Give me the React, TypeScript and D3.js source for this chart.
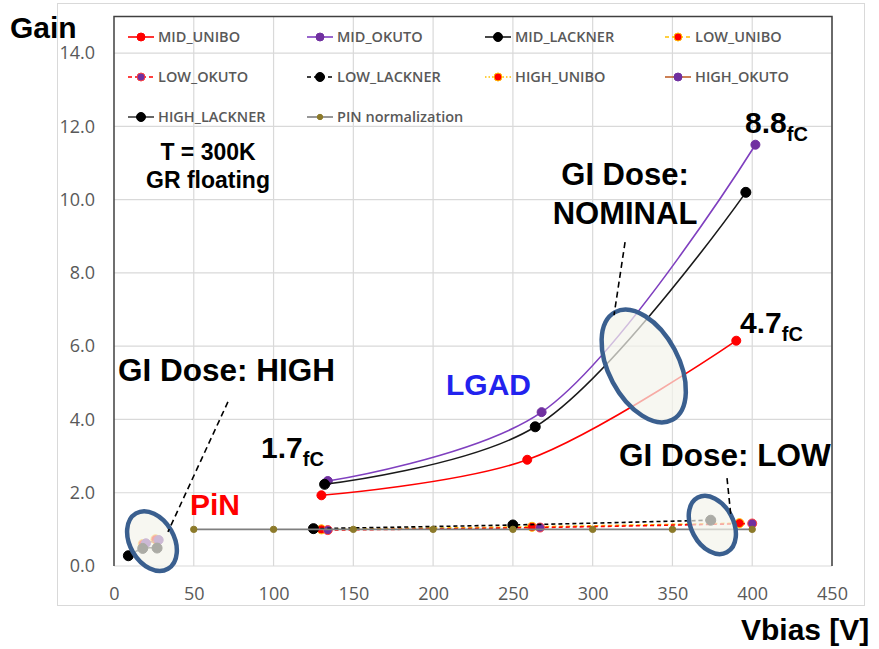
import React, { useRef, useEffect } from 'react';
import * as d3 from 'd3';

// values (bias in V, gain)
const midUniboV = [130, 259, 390];
const midUniboG = [1.93, 2.9, 6.15];
const midOkutoV = [134, 268, 402];
const midOkutoG = [2.32, 4.2, 11.5];
const midLacknerV = [132, 264, 396];
const midLacknerG = [2.23, 3.8, 10.2];
const lowUniboV = [130, 262, 392];
const lowUniboG = [1.0, 1.07, 1.17];
const lowOkutoV = [134, 267, 400];
const lowOkutoG = [0.98, 1.05, 1.16];
const lowLacknerV = [125, 250, 374];
const lowLacknerG = [1.02, 1.12, 1.25];
const highUniboV = [18, 26];
const highUniboG = [0.6, 0.73];
const highOkutoV = [20, 28];
const highOkutoG = [0.62, 0.71];
const highLacknerV = [9, 18, 27];
const highLacknerG = [0.28, 0.48, 0.49];
const pinV = [50, 100, 150, 200, 250, 300, 350, 400];
const pinG = [1, 1, 1, 1, 1, 1, 1, 1];

const seriesNames = ['MID_UNIBO', 'MID_OKUTO', 'MID_LACKNER', 'LOW_UNIBO', 'LOW_OKUTO',
  'LOW_LACKNER', 'HIGH_UNIBO', 'HIGH_OKUTO', 'HIGH_LACKNER', 'PIN normalization'];
const seriesV = [midUniboV, midOkutoV, midLacknerV, lowUniboV, lowOkutoV, lowLacknerV,
  highUniboV, highOkutoV, highLacknerV, pinV];
const seriesG = [midUniboG, midOkutoG, midLacknerG, lowUniboG, lowOkutoG, lowLacknerG,
  highUniboG, highOkutoG, highLacknerG, pinG];

const xTicks = [0, 50, 100, 150, 200, 250, 300, 350, 400, 450];
const yTicks = [0, 2, 4, 6, 8, 10, 12, 14];

// line colour, dash, marker fill, marker stroke, marker radius
const styles: Record<string, any> = {
  'MID_UNIBO': { line: '#ff0000', dash: null, mark: '#ff0000', mstroke: '#ff0000', r: 4.5 },
  'MID_OKUTO': { line: '#7f3fbf', dash: null, mark: '#7030a0', mstroke: '#7030a0', r: 4.5 },
  'MID_LACKNER': { line: '#1a1a1a', dash: null, mark: '#000', mstroke: '#000', r: 5 },
  'LOW_UNIBO': { line: '#ffc000', dash: '4,3', mark: '#ff0000', mstroke: '#ffc000', r: 4.5 },
  'LOW_OKUTO': { line: '#ff0000', dash: '4,3', mark: '#7030a0', mstroke: '#ff4040', r: 4.5 },
  'LOW_LACKNER': { line: '#000', dash: '4,3', mark: '#000', mstroke: '#000', r: 5 },
  'HIGH_UNIBO': { line: '#ffc000', dash: '1.5,2', mark: '#ff0000', mstroke: '#ffc000', r: 4.5 },
  'HIGH_OKUTO': { line: '#c0612b', dash: null, mark: '#7030a0', mstroke: '#7030a0', r: 4.5 },
  'HIGH_LACKNER': { line: '#404040', dash: null, mark: '#000', mstroke: '#000', r: 5 },
  'PIN normalization': { line: '#7f7f7f', dash: null, mark: '#8c7a2a', mstroke: '#8c7a2a', r: 3.2 },
};

export default function App() {
  const svgRef = useRef<SVGSVGElement>(null);

  useEffect(() => {
    const svg = d3.select(svgRef.current);
    svg.selectAll('*').remove();

    const x = d3.scaleLinear().domain([0, 450]).range([114, 832]);
    const y = d3.scaleLinear().domain([0, 15]).range([566, 16.5]);

    // chart frame
    svg.append('rect')
      .attr('x', 57.5).attr('y', 3.5).attr('width', 807).attr('height', 602)
      .attr('fill', '#fff').attr('stroke', '#d9d9d9');

    // grid
    svg.append('g').selectAll('line').data(xTicks.slice(1)).join('line')
      .attr('x1', d => x(d)).attr('x2', d => x(d))
      .attr('y1', y(15)).attr('y2', y(0))
      .attr('stroke', '#d9d9d9').attr('stroke-width', 1.2);
    svg.append('g').selectAll('line').data(yTicks).join('line')
      .attr('x1', x(0)).attr('x2', x(450))
      .attr('y1', d => y(d)).attr('y2', d => y(d))
      .attr('stroke', '#d9d9d9').attr('stroke-width', 1.2);

    // plot border (left, top, right)
    svg.append('path')
      .attr('d', `M${x(0)},${y(0)}V${y(15)}H${x(450)}V${y(0)}`)
      .attr('fill', 'none').attr('stroke', '#404040').attr('stroke-width', 1.5);

    // axes
    const xAxis = d3.axisBottom(x).tickValues(xTicks).tickSize(0).tickPadding(21)
      .tickFormat(d3.format('d'));
    svg.append('g').attr('transform', `translate(0,${y(0)})`).call(xAxis)
      .call(g => g.select('.domain').remove())
      .selectAll('text').attr('fill', '#595959')
      .style('font-family', '"Open Sans", sans-serif').style('font-size', '18px');

    const yAxis = d3.axisLeft(y).tickValues(yTicks).tickSize(0).tickPadding(19)
      .tickFormat(d3.format('.1f'));
    svg.append('g').attr('transform', `translate(${x(0)},0)`).call(yAxis)
      .call(g => g.select('.domain').remove())
      .selectAll('text').attr('fill', '#595959')
      .style('font-family', '"Open Sans", sans-serif').style('font-size', '18px');

    // series
    const line = d3.line<[number, number]>()
      .x(d => x(d[0])).y(d => y(d[1]))
      .curve(d3.curveCatmullRom);

    seriesNames.forEach((name, i) => {
      const st = styles[name];
      const pts = seriesV[i].map((v, j) => [v, seriesG[i][j]] as [number, number]);
      const g = svg.append('g');
      g.append('path')
        .attr('d', line(pts))
        .attr('fill', 'none')
        .attr('stroke', st.line)
        .attr('stroke-width', 1.6)
        .attr('stroke-dasharray', st.dash);
      g.selectAll('circle').data(pts).join('circle')
        .attr('cx', d => x(d[0])).attr('cy', d => y(d[1]))
        .attr('r', st.r)
        .attr('fill', st.mark).attr('stroke', st.mstroke).attr('stroke-width', 1);
    });

    // legend
    const legCols = [128, 307, 485, 665];
    const legRows = [37, 77, 117];
    seriesNames.forEach((name, i) => {
      const st = styles[name];
      const lx = legCols[i % 4];
      const ly = legRows[Math.floor(i / 4)];
      const g = svg.append('g').attr('transform', `translate(${lx},${ly})`);
      g.append('line').attr('x1', 0).attr('x2', 26).attr('y1', 0).attr('y2', 0)
        .attr('stroke', st.line).attr('stroke-width', 1.6).attr('stroke-dasharray', st.dash);
      g.append('circle').attr('cx', 13).attr('cy', 0).attr('r', st.r - 0.5)
        .attr('fill', st.mark).attr('stroke', st.mstroke);
      g.append('text').attr('x', 30).attr('y', 0).attr('dy', '0.36em')
        .attr('fill', '#595959')
        .style('font-family', '"Open Sans", sans-serif')
        .style('font-size', '14.5px').style('font-weight', 600)
        .text(name);
    });

    // highlight ellipses
    const ellipses = [
      { v: 23.8, g: 0.68, rx: 22, ry: 32, rot: -30 },
      { v: 332, g: 5.46, rx: 35, ry: 61, rot: -28 },
      { v: 375, g: 1.12, rx: 21, ry: 31, rot: -28 },
    ];
    svg.append('g').selectAll('ellipse').data(ellipses).join('ellipse')
      .attr('transform', d => `translate(${x(d.v)},${y(d.g)}) rotate(${d.rot})`)
      .attr('rx', d => d.rx).attr('ry', d => d.ry)
      .attr('fill', 'rgba(243,243,235,0.7)')
      .attr('stroke', '#3a5f8f').attr('stroke-width', 4.5);

    // dashed leaders
    const leaders = [
      [[71.4, 4.48], [33.8, 0.93]],
      [[320.3, 8.84], [313.4, 6.85]],
      [[384.2, 2.4], [386.7, 1.34]],
    ];
    svg.append('g').selectAll('line').data(leaders).join('line')
      .attr('x1', d => x(d[0][0])).attr('y1', d => y(d[0][1]))
      .attr('x2', d => x(d[1][0])).attr('y2', d => y(d[1][1]))
      .attr('stroke', '#000').attr('stroke-width', 1.6).attr('stroke-dasharray', '6,4');

    // text annotations
    const bold = (t: string, tx: number, ty: number, size: number, color = '#000', anchor = 'start') =>
      svg.append('text').attr('x', tx).attr('y', ty)
        .attr('fill', color).attr('text-anchor', anchor)
        .style('font-family', '"Liberation Sans", Arial, sans-serif')
        .style('font-weight', 700).style('font-size', size + 'px')
        .text(t);

    bold('Gain', 10, 38, 30);
    bold('Vbias [V]', 741, 640, 30);
    bold('T = 300K', 208, 160, 23, '#000', 'middle');
    bold('GR floating', 208, 188, 23, '#000', 'middle');
    bold('GI Dose:', 625, 185, 31, '#000', 'middle');
    bold('NOMINAL', 625, 224, 31, '#000', 'middle');
    bold('GI Dose: HIGH', 118, 381, 31.5);
    bold('LGAD', 446, 395, 30, '#2222ee');
    bold('PiN', 190, 515, 30, '#ff0000');
    bold('GI Dose: LOW', 619, 466, 31.5);

    const charge = [
      { val: '1.7', px: 261, py: 458 },
      { val: '4.7', px: 740, py: 333 },
      { val: '8.8', px: 745, py: 133 },
    ];
    charge.forEach(c => {
      const t = bold(c.val, c.px, c.py, 30);
      t.append('tspan').attr('dy', 8).style('font-size', '20px').text('fC');
    });
  }, []);

  return (
    <svg ref={svgRef} width={879} height={649}
      style={{ position: 'absolute', left: 0, top: 0, background: '#fff' }} />
  );
}
